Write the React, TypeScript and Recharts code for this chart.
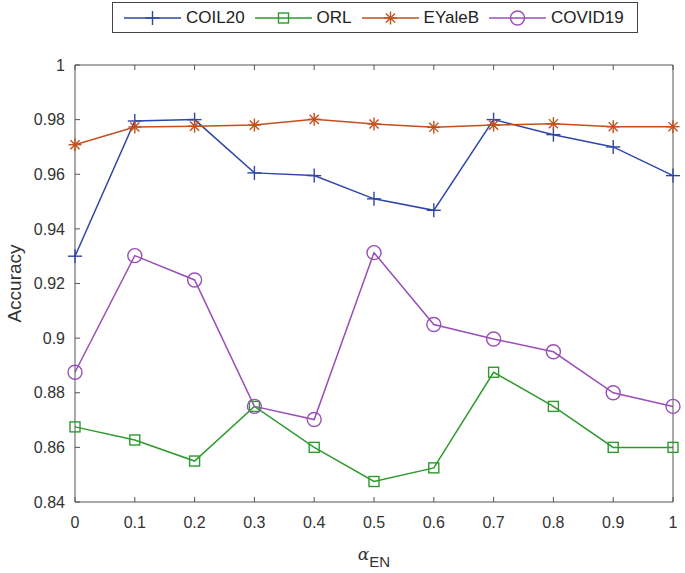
import React from "react"
import { Line, LineChart, XAxis, YAxis } from "recharts"

const alphas = [0, 0.1, 0.2, 0.3, 0.4, 0.5, 0.6, 0.7, 0.8, 0.9, 1]
const coil20 = [0.93, 0.9795, 0.98, 0.9605, 0.9595, 0.951, 0.9468, 0.98, 0.9745, 0.97, 0.9595]
const orl = [0.8675, 0.8627, 0.855, 0.875, 0.86, 0.8475, 0.8525, 0.8875, 0.875, 0.86, 0.86]
const eyaleb = [0.9708, 0.9773, 0.9776, 0.978, 0.9801, 0.9784, 0.9772, 0.978, 0.9785, 0.9774, 0.9774]
const covid19 = [0.8875, 0.9302, 0.9213, 0.875, 0.8702, 0.9313, 0.905, 0.8997, 0.895, 0.88, 0.875]
const xTicks = [0, 0.1, 0.2, 0.3, 0.4, 0.5, 0.6, 0.7, 0.8, 0.9, 1]
const yTicks = [0.84, 0.86, 0.88, 0.9, 0.92, 0.94, 0.96, 0.98, 1]

const COLORS = {
  coil20: "#2F46A6",
  orl: "#2E9A2E",
  eyaleb: "#C2501C",
  covid19: "#9A4FB6",
}
const AXIS = "#555"
const FONT = "'Liberation Sans', Arial, sans-serif"

const data = alphas.map((a, i) => ({
  a,
  coil20: coil20[i],
  orl: orl[i],
  eyaleb: eyaleb[i],
  covid19: covid19[i],
}))

type Shape = "plus" | "square" | "star" | "circle"

function Marker({ shape, cx, cy, color }: { shape: Shape; cx: number; cy: number; color: string }) {
  if (shape === "plus") {
    return (
      <g stroke={color} strokeWidth={1.4}>
        <line x1={cx - 7} y1={cy} x2={cx + 7} y2={cy} />
        <line x1={cx} y1={cy - 7} x2={cx} y2={cy + 7} />
      </g>
    )
  }
  if (shape === "square") {
    return <rect x={cx - 5} y={cy - 5} width={10} height={10} fill="none" stroke={color} strokeWidth={1.4} />
  }
  if (shape === "star") {
    const d = 4.6
    return (
      <g stroke={color} strokeWidth={1.4}>
        <line x1={cx - 6.5} y1={cy} x2={cx + 6.5} y2={cy} />
        <line x1={cx} y1={cy - 6.5} x2={cx} y2={cy + 6.5} />
        <line x1={cx - d} y1={cy - d} x2={cx + d} y2={cy + d} />
        <line x1={cx - d} y1={cy + d} x2={cx + d} y2={cy - d} />
      </g>
    )
  }
  return <circle cx={cx} cy={cy} r={7} fill="none" stroke={color} strokeWidth={1.4} />
}

function dotFor(shape: Shape, color: string) {
  return (p: any) => (
    <Marker key={`${shape}-${p.index}`} shape={shape} cx={p.cx} cy={p.cy} color={color} />
  )
}

const series: { key: keyof typeof COLORS; name: string; shape: Shape }[] = [
  { key: "coil20", name: "COIL20", shape: "plus" },
  { key: "orl", name: "ORL", shape: "square" },
  { key: "eyaleb", name: "EYaleB", shape: "star" },
  { key: "covid19", name: "COVID19", shape: "circle" },
]

const fmt = (v: number) => String(Number(v.toFixed(2)))

function LegendBox() {
  return (
    <div
      style={{
        position: "absolute",
        left: 112,
        top: 2,
        width: 526,
        height: 31,
        border: "1.5px solid #444",
        background: "#fff",
        display: "flex",
        alignItems: "center",
        fontFamily: FONT,
        fontSize: 17,
        color: "#222",
        paddingLeft: 11,
        boxSizing: "border-box",
      }}
    >
      {series.map((s) => (
        <div key={s.key} style={{ display: "flex", alignItems: "center", marginRight: 10 }}>
          <svg width={57} height={20} style={{ marginRight: 5 }}>
            <line x1={0} y1={10} x2={57} y2={10} stroke={COLORS[s.key]} strokeWidth={1.5} />
            <Marker shape={s.shape} cx={28.5} cy={10} color={COLORS[s.key]} />
          </svg>
          <span>{s.name}</span>
        </div>
      ))}
    </div>
  )
}

export default function App() {
  return (
    <div style={{ position: "absolute", left: 0, top: 0, width: 685, height: 573, background: "#fff" }}>
      <LineChart width={685} height={573} data={data} margin={{ top: 59, right: 7, bottom: 0, left: 0 }}>
        <XAxis
          dataKey="a"
          type="number"
          domain={[0, 1]}
          ticks={xTicks}
          tickFormatter={fmt}
          stroke={AXIS}
          tickSize={-5}
          tickMargin={20}
          tick={{ fill: "#333", fontSize: 16, fontFamily: FONT }}
          height={71}
          label={{
            content: ({ viewBox }: any) => (
              <text x={viewBox.x + viewBox.width / 2} y={viewBox.y + 58} textAnchor="middle" fill="#333">
                <tspan fontFamily="'DejaVu Serif', serif" fontStyle="italic" fontSize={17}>α</tspan>
                <tspan fontFamily={FONT} fontSize={15} dy={7}>EN</tspan>
              </text>
            ),
          }}
        />
        <XAxis
          xAxisId="top"
          dataKey="a"
          type="number"
          domain={[0, 1]}
          ticks={xTicks}
          orientation="top"
          stroke={AXIS}
          tickSize={-5}
          tickFormatter={() => ""}
          height={6}
        />
        <YAxis
          type="number"
          domain={[0.84, 1]}
          ticks={yTicks}
          tickFormatter={fmt}
          stroke={AXIS}
          tickSize={-5}
          tickMargin={15}
          width={75}
          tick={{ fill: "#333", fontSize: 16, fontFamily: FONT }}
          label={{
            content: ({ viewBox }: any) => {
              const x = 14
              const y = viewBox.y + viewBox.height / 2
              return (
                <text x={x} y={y} transform={`rotate(-90 ${x} ${y})`} textAnchor="middle" dominantBaseline="central" fill="#333" fontFamily={FONT} fontSize={19}>
                  Accuracy
                </text>
              )
            },
          }}
        />
        <YAxis
          yAxisId="right"
          orientation="right"
          type="number"
          domain={[0.84, 1]}
          ticks={yTicks}
          stroke={AXIS}
          tickSize={-5}
          tickFormatter={() => ""}
          width={5}
        />
        {series.map((s) => (
          <Line
            key={s.key}
            dataKey={s.key}
            name={s.name}
            stroke={COLORS[s.key]}
            strokeWidth={1.5}
            dot={dotFor(s.shape, COLORS[s.key])}
            activeDot={false}
            isAnimationActive={false}
          />
        ))}
      </LineChart>
      <LegendBox />
    </div>
  )
}
